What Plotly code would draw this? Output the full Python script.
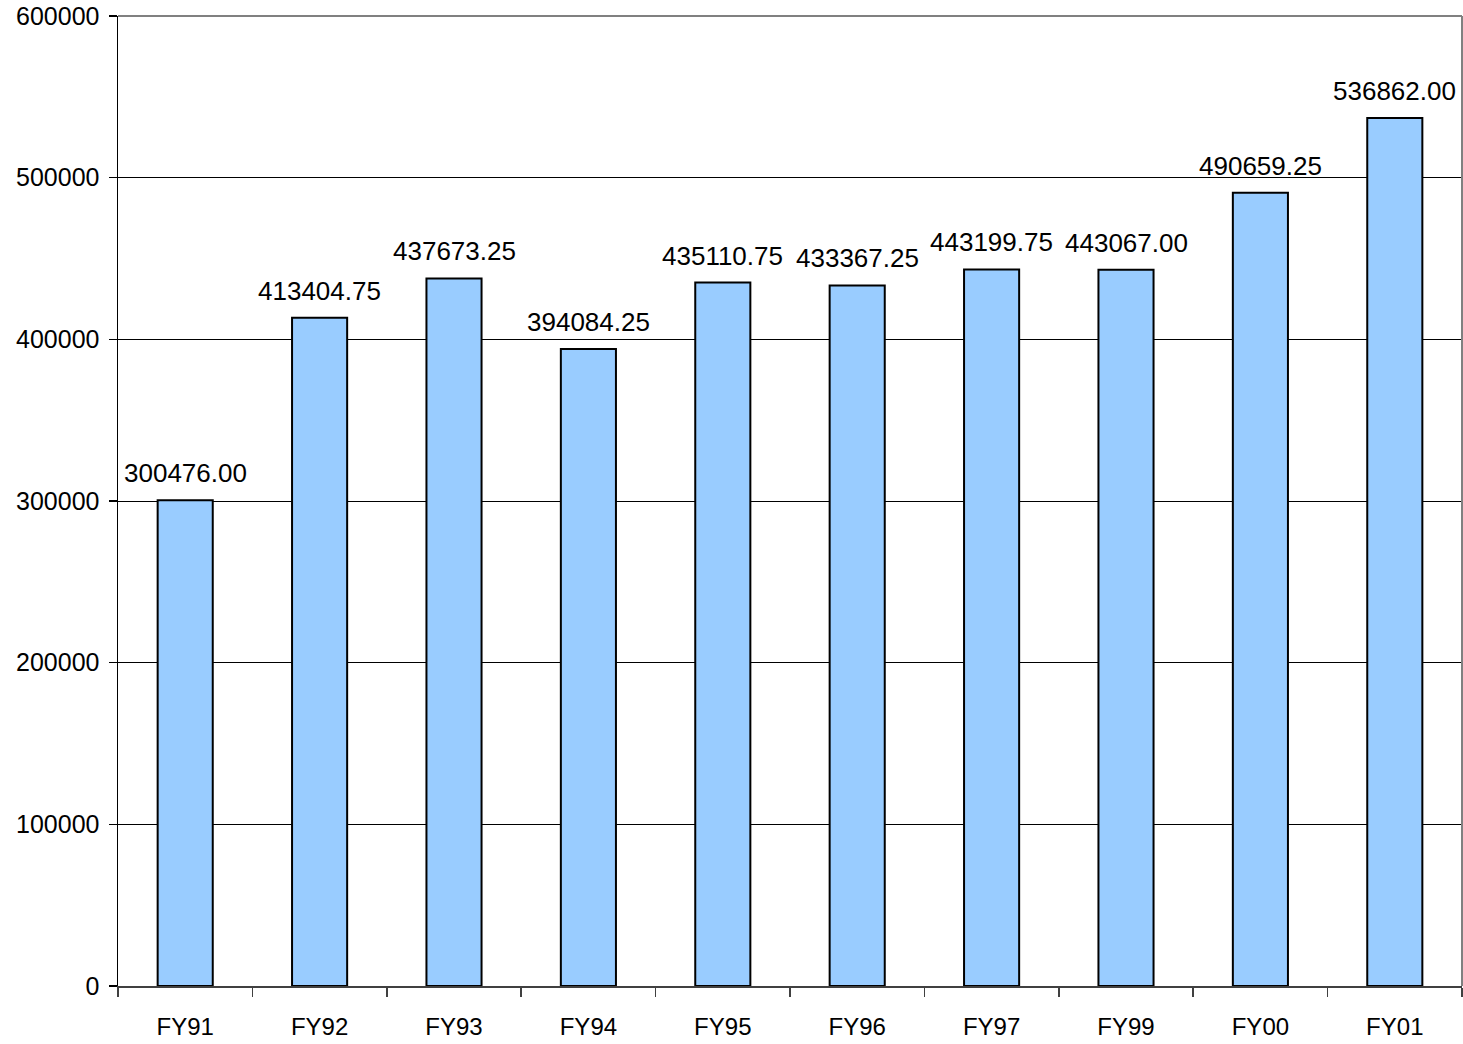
import plotly.graph_objects as go

categories = ["FY91", "FY92", "FY93", "FY94", "FY95", "FY96", "FY97", "FY99", "FY00", "FY01"]
values = [300476.00, 413404.75, 437673.25, 394084.25, 435110.75, 433367.25,
          443199.75, 443067.00, 490659.25, 536862.00]
y_ticks = [0, 100000, 200000, 300000, 400000, 500000, 600000]

FONT = "Liberation Sans, Arial, sans-serif"

fig = go.Figure(go.Bar(
    x=categories,
    y=values,
    marker=dict(color="#99CCFF", line=dict(color="#000000", width=2)),
    cliponaxis=False,
))

annotations = [
    dict(x=c, y=v, xref="x", yref="y", text=f"{v:.2f}", showarrow=False,
         yanchor="bottom", yshift=10,
         font=dict(size=26, family=FONT, color="#000000"))
    for c, v in zip(categories, values)
]

fig.update_layout(
    width=1463, height=1044,
    margin=dict(l=118, r=1, t=16, b=58),
    plot_bgcolor="white", paper_bgcolor="white",
    bargap=0.59,
    showlegend=False,
    font=dict(family=FONT, size=24, color="#000000"),
    annotations=annotations,
    xaxis=dict(
        type="category",
        automargin=False,
        showline=True, linecolor="#404040", linewidth=1.5,
        ticks="outside", tickson="boundaries", ticklen=9, tickcolor="#404040", tickwidth=1.5,
        showgrid=False,
        tickfont=dict(size=24, family=FONT, color="#000000"),
        ticklabelstandoff=19,
    ),
    yaxis=dict(
        automargin=False,
        range=[0, 600000],
        tickvals=y_ticks,
        ticktext=[str(v) for v in y_ticks],
        showline=True, linecolor="#000000", linewidth=1.5,
        ticks="outside", ticklen=8, tickcolor="#000000", tickwidth=1.5,
        showgrid=True, gridcolor="#000000", gridwidth=1,
        zeroline=False,
        tickfont=dict(size=25, family=FONT, color="#000000"),
        ticklabelstandoff=4,
    ),
    shapes=[
        dict(type="line", xref="paper", yref="paper", x0=0, x1=1, y0=1, y1=1,
             line=dict(color="#808080", width=2)),
        dict(type="line", xref="paper", yref="paper", x0=1, x1=1, y0=0, y1=1,
             line=dict(color="#808080", width=2)),
    ],
)

fig.write_html(
    "out.html",
    config={"responsive": False, "displayModeBar": False, "staticPlot": True},
    post_script="document.body.style.margin='0';document.body.style.overflow='hidden';",
)
